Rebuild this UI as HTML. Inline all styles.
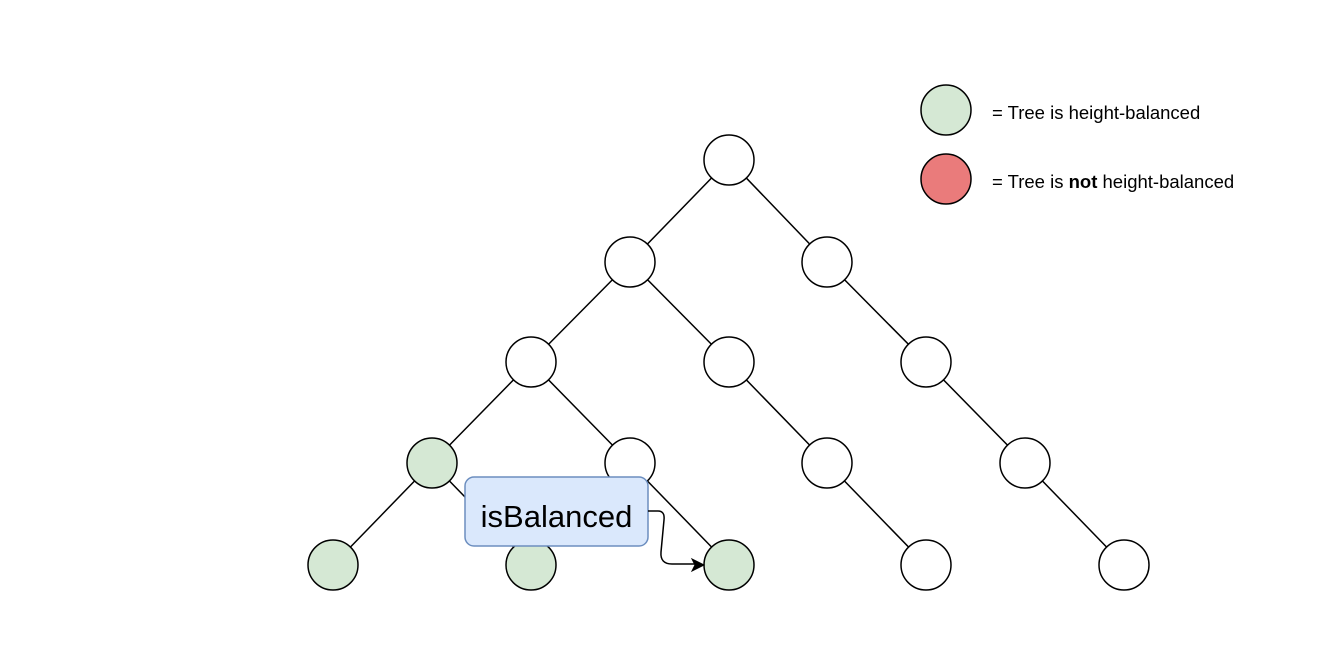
<!DOCTYPE html>
<html><head><meta charset="utf-8"><style>body{margin:0;background:#fff}svg{display:block}</style></head><body>
<svg width="1333" height="659" viewBox="0 0 1333 659" xmlns="http://www.w3.org/2000/svg" font-family="Liberation Sans, sans-serif">
<g stroke="#000" stroke-width="1.5">
<line x1="729" y1="160" x2="630" y2="262"/>
<line x1="729" y1="160" x2="827" y2="262"/>
<line x1="630" y1="262" x2="531" y2="362"/>
<line x1="630" y1="262" x2="729" y2="362"/>
<line x1="827" y1="262" x2="926" y2="362"/>
<line x1="531" y1="362" x2="432" y2="463"/>
<line x1="531" y1="362" x2="630" y2="463"/>
<line x1="729" y1="362" x2="827" y2="463"/>
<line x1="926" y1="362" x2="1025" y2="463"/>
<line x1="432" y1="463" x2="333" y2="565"/>
<line x1="432" y1="463" x2="531" y2="565"/>
<line x1="630" y1="463" x2="729" y2="565"/>
<line x1="827" y1="463" x2="926" y2="565"/>
<line x1="1025" y1="463" x2="1124" y2="565"/>
</g>
<g stroke="#000" stroke-width="1.5">
<circle cx="729" cy="160" r="25" fill="#fff"/>
<circle cx="630" cy="262" r="25" fill="#fff"/>
<circle cx="827" cy="262" r="25" fill="#fff"/>
<circle cx="531" cy="362" r="25" fill="#fff"/>
<circle cx="729" cy="362" r="25" fill="#fff"/>
<circle cx="926" cy="362" r="25" fill="#fff"/>
<circle cx="432" cy="463" r="25" fill="#d5e8d4"/>
<circle cx="630" cy="463" r="25" fill="#fff"/>
<circle cx="827" cy="463" r="25" fill="#fff"/>
<circle cx="1025" cy="463" r="25" fill="#fff"/>
<circle cx="333" cy="565" r="25" fill="#d5e8d4"/>
<circle cx="531" cy="565" r="25" fill="#d5e8d4"/>
<circle cx="729" cy="565" r="25" fill="#d5e8d4"/>
<circle cx="926" cy="565" r="25" fill="#fff"/>
<circle cx="1124" cy="565" r="25" fill="#fff"/>
<circle cx="946" cy="110" r="25" fill="#d5e8d4"/>
<circle cx="946" cy="179" r="25" fill="#ea7b7b"/>
</g>
<text x="992" y="119" font-size="18.5">= Tree is height-balanced</text>
<text x="992" y="188" font-size="18.5">= Tree is <tspan font-weight="bold">not</tspan>  height-balanced</text>
<rect x="465" y="477" width="183" height="69" rx="9" fill="#dae8fc" stroke="#6c8ebf" stroke-width="1.5"/>
<text x="556.5" y="527" font-size="31" text-anchor="middle">isBalanced</text>
<path d="M648 511 L658 511 Q665 511 664 520 L661 552 Q660 564 672 564 L696 564" fill="none" stroke="#000" stroke-width="1.5"/>
<path d="M704 565 L692 559 L695 565 L692 571 Z" fill="#000" stroke="#000"/>
</svg>
</body></html>
